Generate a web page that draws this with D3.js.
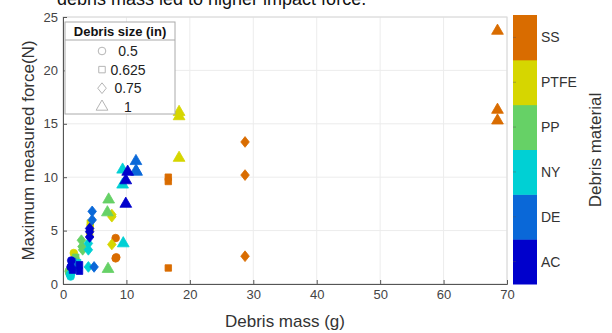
<!DOCTYPE html>
<html>
<head>
<meta charset="utf-8">
<script src="https://cdn.jsdelivr.net/npm/d3@7"></script>
<style>
  body { margin: 0; background: white; }
  svg text { font-family: "Liberation Sans", Arial, sans-serif; }
</style>
</head>
<body>
<div id="mydiv"></div>
<script>
// materials, bottom to top on the colour bar
var materials = ["AC", "DE", "NY", "PP", "PTFE", "SS"];
var materialColors = ["#0000cc", "#0a68d8", "#00d0d4", "#66d166", "#d6d600", "#d96c00"];
var sizes = [0.5, 0.625, 0.75, 1];
var sizeLabels = ["0.5", "0.625", "0.75", "1"];

// one entry per measurement
var pointMaterial = [
  "SS","SS","SS", "SS","SS","SS", "SS","SS","SS", "SS","SS","SS",
  "PTFE","PTFE","PTFE", "PTFE","PTFE","PTFE", "PTFE","PTFE","PTFE", "PTFE","PTFE",
  "PP","PP","PP", "PP","PP","PP", "PP","PP","PP", "PP","PP","PP",
  "NY","NY","NY", "NY","NY","NY", "NY","NY", "NY","NY","NY",
  "DE","DE","DE", "DE","DE","DE", "DE","DE", "DE","DE",
  "AC","AC","AC", "AC","AC","AC", "AC","AC","AC", "AC","AC"
];
var pointSize = [
  1,1,1, 0.75,0.75,0.75, 0.625,0.625,0.625, 0.5,0.5,0.5,
  1,1,1, 0.75,0.75,0.75, 0.625,0.625,0.625, 0.5,0.5,
  1,1,1, 0.75,0.75,0.75, 0.625,0.625,0.625, 0.5,0.5,0.5,
  1,1,1, 0.75,0.75,0.75, 0.625,0.625, 0.5,0.5,0.5,
  1,1,1, 0.75,0.75,0.75, 0.625,0.625, 0.5,0.5,
  1,1,1, 0.75,0.75,0.75, 0.625,0.625,0.625, 0.5,0.5
];
var pointMass = [
  68.5,68.5,68.5, 28.7,28.7,28.7, 16.6,16.6,16.6, 8.3,8.4,8.3,
  18.3,18.3,18.3, 7.7,7.7,7.7, 4.3,4.3,4.2, 1.7,2.0,
  7.2,7.0,7.1, 2.9,3.0,3.1, 2.0,1.8,1.7, 0.9,1.0,1.1,
  9.4,9.4,9.5, 4.0,4.0,4.0, 2.3,2.2, 1.2,1.3,1.1,
  11.5,11.5,11.6, 4.6,4.6,4.9, 1.5,1.4, 1.5,1.6,
  10.2,9.9,9.9, 4.2,4.2,4.2, 2.6,2.6,1.5, 1.2,1.3
];
var pointForce = [
  23.7,16.3,15.3, 13.3,10.2,2.6, 10.0,9.6,1.5, 4.3,2.5,2.4,
  16.1,15.7,11.8, 6.5,6.3,3.7, 5.7,5.3,4.7, 2.9,2.3,
  7.9,6.7,1.4, 4.1,3.5,3.2, 2.5,2.1,1.8, 1.2,1.0,1.4,
  10.7,9.3,3.8, 3.8,3.2,1.6, 2.0,1.5, 0.7,1.0,0.9,
  11.5,10.6,10.5, 6.8,6.0,1.6, 2.1,1.7, 1.5,1.9,
  10.5,9.7,7.5, 5.2,4.9,4.4, 1.2,1.8,1.3, 1.6,2.2
];

var xTicks = [0, 10, 20, 30, 40, 50, 60, 70];
var yTicks = [0, 5, 10, 15, 20, 25];

var W = 612, H = 333;
var margin = {top: 17, right: 105, bottom: 49, left: 63};
var width = W - margin.left - margin.right,
    height = H - margin.top - margin.bottom;

var svg = d3.select("#mydiv").append("svg")
  .attr("width", W)
  .attr("height", H)
  .style("background-color", "white");

// cut-off caption line from the page above
svg.append("text")
  .attr("x", 57).attr("y", 5)
  .style("font-size", "18px")
  .style("fill", "#111")
  .text("debris mass led to higher impact force.");

var g = svg.append("g")
  .attr("transform", "translate(" + margin.left + "," + margin.top + ")");

var x = d3.scaleLinear().domain([0, 70]).range([0, width]);
var y = d3.scaleLinear().domain([0, 25]).range([height, 0]);

// grid
g.selectAll(".xgrid").data(xTicks).enter().append("line")
  .attr("x1", function(d) { return x(d); }).attr("x2", function(d) { return x(d); })
  .attr("y1", 0).attr("y2", height)
  .attr("stroke", "#ececec").attr("stroke-width", 1);
g.selectAll(".ygrid").data(yTicks).enter().append("line")
  .attr("x1", 0).attr("x2", width)
  .attr("y1", function(d) { return y(d); }).attr("y2", function(d) { return y(d); })
  .attr("stroke", "#ececec").attr("stroke-width", 1);

g.append("rect")
  .attr("width", width).attr("height", height)
  .attr("fill", "none").attr("stroke", "#d8d8d8");

// axes
var xaxis = g.append("g")
  .attr("transform", "translate(0," + height + ")")
  .call(d3.axisBottom(x).tickValues(xTicks).tickSize(-4).tickPadding(6));
var yaxis = g.append("g")
  .call(d3.axisLeft(y).tickValues(yTicks).tickSize(-4).tickPadding(5));

[xaxis, yaxis].forEach(function(a) {
  a.selectAll("path").style("stroke", "#555");
  a.selectAll("line").style("stroke", "#555");
  a.selectAll("text").style("fill", "#444").style("font-size", "13px")
    .style("font-family", "Liberation Sans, Arial, sans-serif");
});

svg.append("text")
  .attr("x", margin.left + width / 2).attr("y", 327)
  .attr("text-anchor", "middle")
  .style("font-size", "17px").style("fill", "#333")
  .text("Debris mass (g)");

svg.append("text")
  .attr("transform", "translate(34," + (margin.top + height / 2) + ") rotate(-90)")
  .attr("text-anchor", "middle")
  .style("font-size", "17px").style("fill", "#333")
  .text("Maximum measured force(N)");

// matlab-like diamond: a rotated square, a bit taller than wide
var matDiamond = {
  draw: function(context, size) {
    var w = Math.sqrt(size / 2.5), h = w * 1.25;
    context.moveTo(0, -h);
    context.lineTo(w, 0);
    context.lineTo(0, h);
    context.lineTo(-w, 0);
    context.closePath();
  }
};

// markers
var color = d3.scaleOrdinal().domain(materials).range(materialColors);
var shape = d3.scaleOrdinal().domain(sizes)
  .range([d3.symbolCircle, d3.symbolSquare, matDiamond, d3.symbolTriangle]);
var area = d3.scaleOrdinal().domain(sizes).range([46, 42, 46, 60]);

var data = [];
for (var i = 0; i < pointMass.length; i++) {
  data.push({m: pointMass[i], f: pointForce[i], s: pointSize[i], mat: pointMaterial[i]});
}

g.selectAll(".pt").data(data).enter().append("path")
  .attr("class", "pt")
  .attr("transform", function(d) {
    return "translate(" + x(d.m) + "," + y(d.f) + ")";
  })
  .attr("d", function(d) { return d3.symbol().type(shape(d.s)).size(area(d.s))(); })
  .attr("fill", function(d) { return color(d.mat); })
  .attr("stroke", function(d) { return color(d.mat); })
  .attr("stroke-width", 0.8);

// legend
var leg = svg.append("g");
leg.append("rect")
  .attr("x", 65).attr("y", 22).attr("width", 110).attr("height", 92)
  .attr("fill", "white").attr("stroke", "#aaa");
leg.append("line")
  .attr("x1", 65).attr("x2", 175).attr("y1", 40).attr("y2", 40)
  .attr("stroke", "#aaa");
leg.append("text")
  .attr("x", 120).attr("y", 36).attr("text-anchor", "middle")
  .style("font-size", "13px").style("font-weight", "bold").style("fill", "#111")
  .text("Debris size (in)");
sizes.forEach(function(s, k) {
  var cy = 51 + k * 18.6;
  leg.append("path")
    .attr("transform", "translate(102," + cy + ")")
    .attr("d", d3.symbol().type(shape(s)).size(area(s))())
    .attr("fill", "none").attr("stroke", "#b5b5b5");
  leg.append("text")
    .attr("x", 128).attr("y", cy + 5).attr("text-anchor", "middle")
    .style("font-size", "14px").style("fill", "#222")
    .text(sizeLabels[k]);
});

// colour bar
var cb = d3.scaleBand().domain(materials).range([284, 15]);
var cbar = svg.append("g");
cbar.selectAll(".seg").data(materials).enter().append("rect")
  .attr("x", 513).attr("width", 24)
  .attr("y", function(d) { return cb(d); })
  .attr("height", cb.bandwidth() + 0.5)
  .attr("fill", function(d) { return color(d); });
cbar.selectAll(".tk").data(materials).enter().append("line")
  .attr("x1", 513).attr("x2", 516)
  .attr("y1", function(d) { return cb(d) + cb.bandwidth() / 2; })
  .attr("y2", function(d) { return cb(d) + cb.bandwidth() / 2; })
  .attr("stroke", "#555").attr("stroke-opacity", 0.4);
cbar.selectAll(".lb").data(materials).enter().append("text")
  .attr("x", 541)
  .attr("y", function(d) { return cb(d) + cb.bandwidth() / 2 + 5; })
  .style("font-size", "14px").style("fill", "#333")
  .text(function(d) { return d; });
svg.append("text")
  .attr("transform", "translate(601,150) rotate(-90)")
  .attr("text-anchor", "middle")
  .style("font-size", "17px").style("fill", "#333")
  .text("Debris material");
</script>
</body>
</html>
